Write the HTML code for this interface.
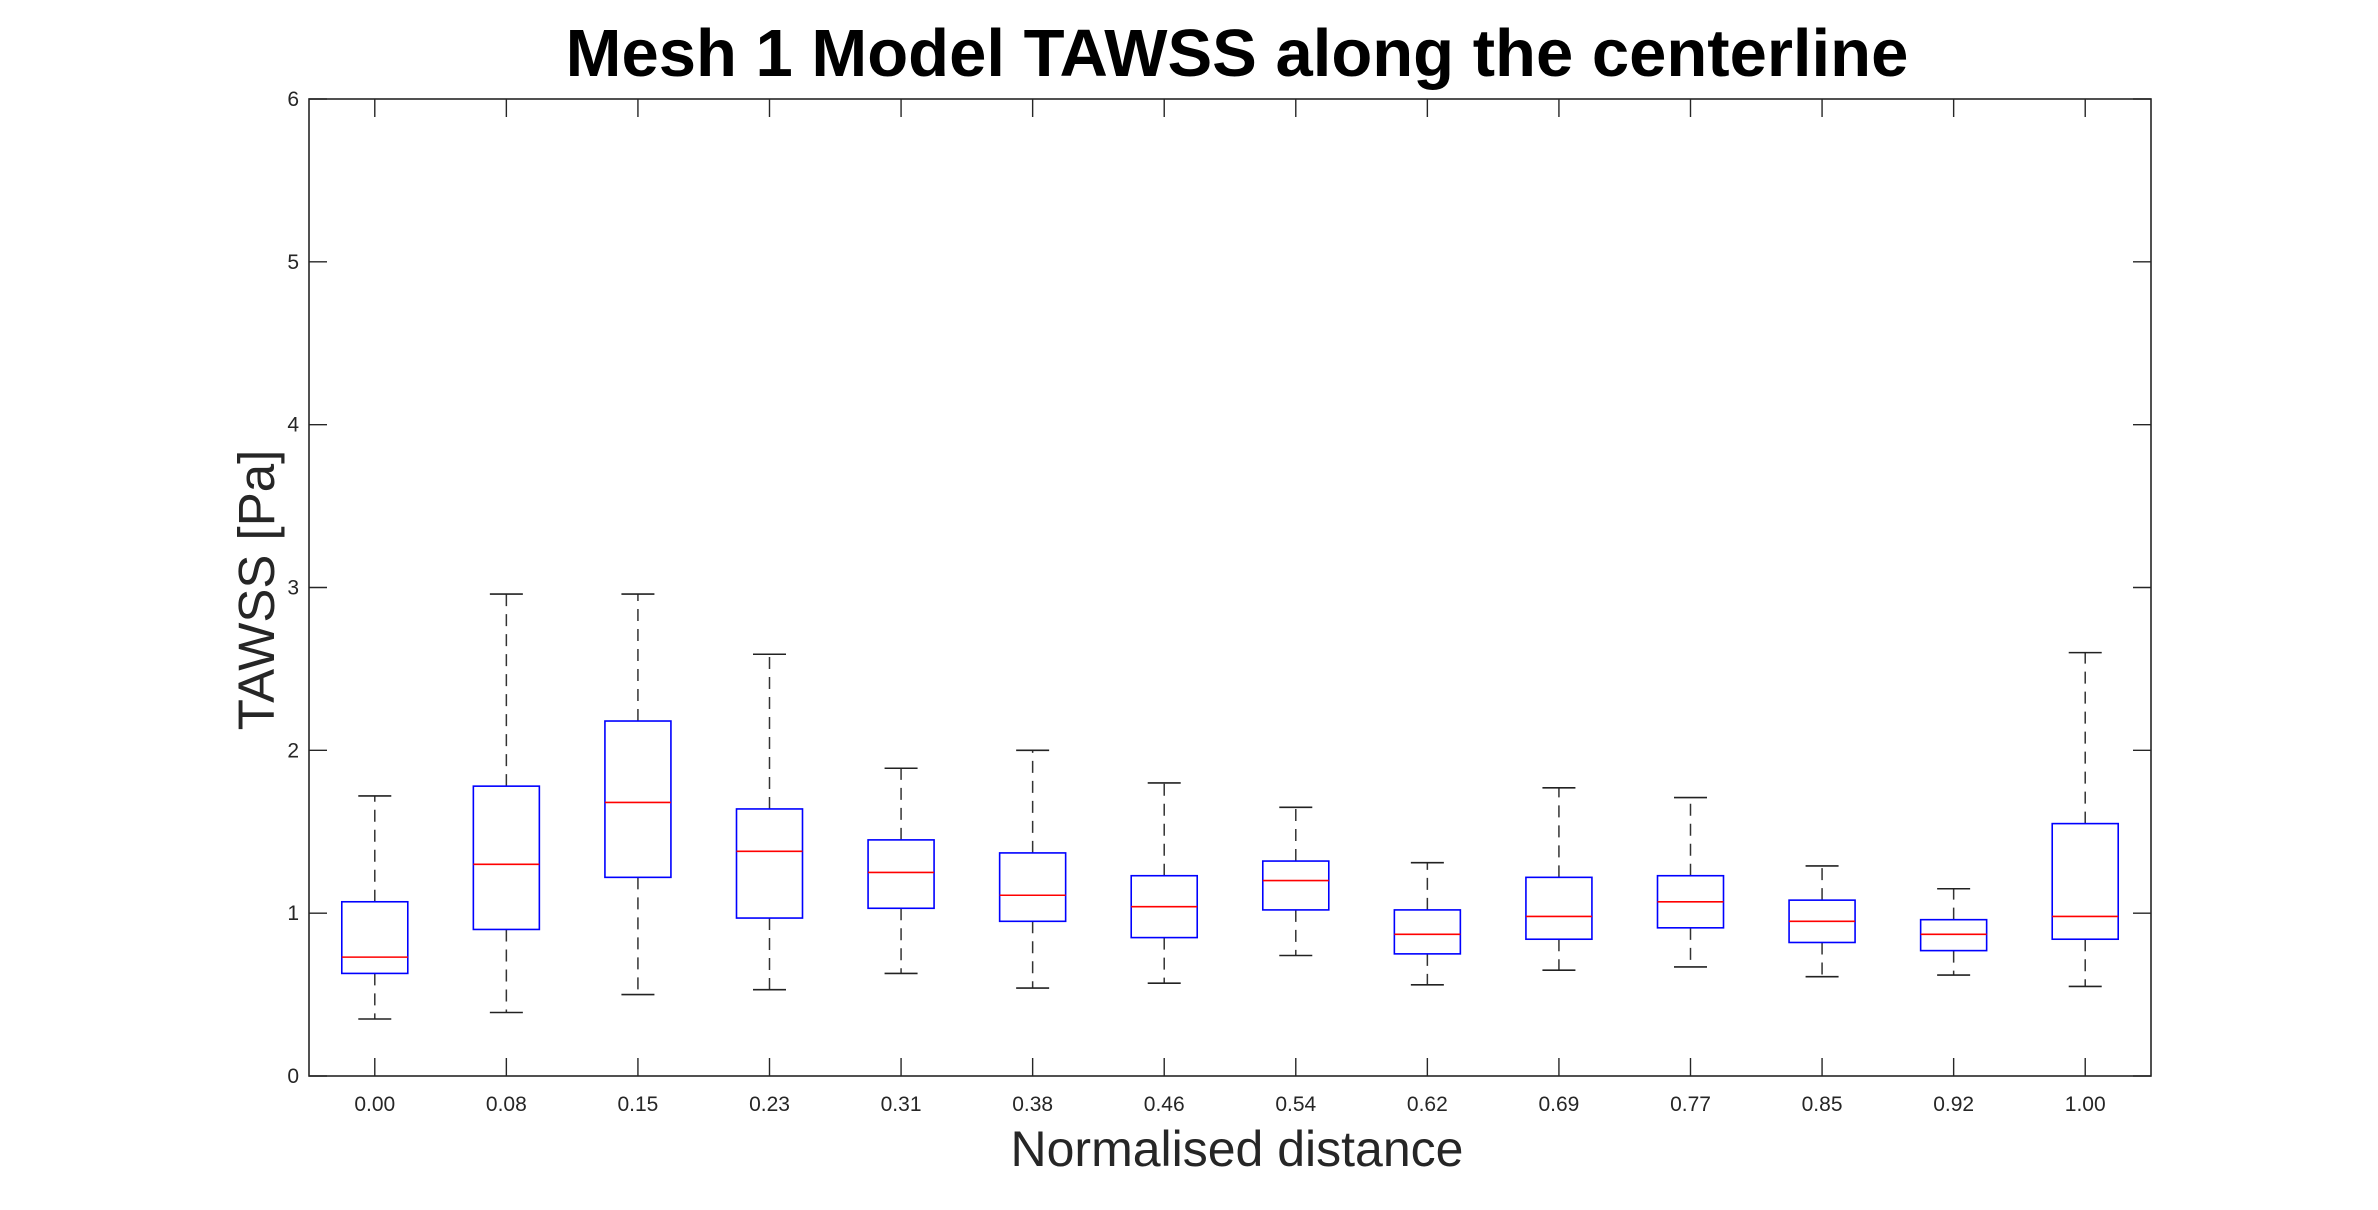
<!DOCTYPE html>
<html><head><meta charset="utf-8"><style>
html,body{margin:0;padding:0;background:#fff;}
svg{display:block;font-family:"Liberation Sans",Arial,sans-serif;}
</style></head><body>
<svg id="chart" width="2378" height="1210" viewBox="0 0 2378 1210" xmlns="http://www.w3.org/2000/svg">
<rect width="2378" height="1210" fill="#fff"/>
<text x="1237" y="76" text-anchor="middle" font-size="67" font-weight="bold" fill="#000">Mesh 1 Model TAWSS along the centerline</text>
<text x="1237" y="1166" text-anchor="middle" font-size="50" fill="#262626">Normalised distance</text>
<text transform="translate(274,590) rotate(-90)" text-anchor="middle" font-size="51" fill="#262626">TAWSS [Pa]</text>
<g id="plot"></g>
</svg>
<script>
const categories=["0.00","0.08","0.15","0.23","0.31","0.38","0.46","0.54","0.62","0.69","0.77","0.85","0.92","1.00"];
const whiskerLow=[0.35,0.39,0.50,0.53,0.63,0.54,0.57,0.74,0.56,0.65,0.67,0.61,0.62,0.55];
const q1=[0.63,0.90,1.22,0.97,1.03,0.95,0.85,1.02,0.75,0.84,0.91,0.82,0.77,0.84];
const medians=[0.73,1.30,1.68,1.38,1.25,1.11,1.04,1.20,0.87,0.98,1.07,0.95,0.87,0.98];
const q3=[1.07,1.78,2.18,1.64,1.45,1.37,1.23,1.32,1.02,1.22,1.23,1.08,0.96,1.55];
const whiskerHigh=[1.72,2.96,2.96,2.59,1.89,2.00,1.80,1.65,1.31,1.77,1.71,1.29,1.15,2.60];
const yTicks=[0,1,2,3,4,5,6];

const L=309,R=2151,T=99,B=1076;
const n=categories.length;
const xs=i=>L+(i+0.5)*(R-L)/n;
const ys=v=>B-(v-0)/(6-0)*(B-T);
const g=document.getElementById('plot');
const NS='http://www.w3.org/2000/svg';
function mk(tag,attrs){const e=document.createElementNS(NS,tag);for(const k in attrs)e.setAttribute(k,attrs[k]);g.appendChild(e);return e;}

let ax=mk('rect',{x:L,y:T,width:R-L,height:B-T,fill:'none',stroke:'#262626','stroke-width':1.6});



yTicks.forEach(v=>{
  const y=ys(v);
  let t=mk('line',{x1:L,y1:y,x2:L+18,y2:y,stroke:'#262626','stroke-width':1.4});
  
  
  let t2=mk('line',{x1:R-18,y1:y,x2:R,y2:y,stroke:'#262626','stroke-width':1.4});
  
  
  let lb=mk('text',{x:L-10,y:y+7,'text-anchor':'end','font-size':21,fill:'#262626'});
  lb.textContent=v;
  
  
});

categories.forEach((c,i)=>{
  const x=xs(i);
  let t=mk('line',{x1:x,y1:B,x2:x,y2:B-18,stroke:'#262626','stroke-width':1.4});
  
  
  let t2=mk('line',{x1:x,y1:T,x2:x,y2:T+18,stroke:'#262626','stroke-width':1.4});
  
  
  let lb=mk('text',{x:x,y:B+35,'text-anchor':'middle','font-size':21,fill:'#262626'});
  lb.textContent=c;
  
  

  const hw=33,cw=16.5;
  let wu=mk('line',{x1:x,y1:ys(q3[i]),x2:x,y2:ys(whiskerHigh[i]),stroke:'#333','stroke-width':1.5,'stroke-dasharray':'12,8'});
  
  
  let wl=mk('line',{x1:x,y1:ys(q1[i]),x2:x,y2:ys(whiskerLow[i]),stroke:'#333','stroke-width':1.5,'stroke-dasharray':'12,8'});
  
  
  let cu=mk('line',{x1:x-cw,y1:ys(whiskerHigh[i]),x2:x+cw,y2:ys(whiskerHigh[i]),stroke:'#222','stroke-width':1.6});
  
  
  let cl=mk('line',{x1:x-cw,y1:ys(whiskerLow[i]),x2:x+cw,y2:ys(whiskerLow[i]),stroke:'#222','stroke-width':1.6});
  
  
  let bx=mk('rect',{x:x-hw,y:ys(q3[i]),width:2*hw,height:ys(q1[i])-ys(q3[i]),fill:'none',stroke:'#0000ff','stroke-width':1.6});
  
  
  let md=mk('line',{x1:x-hw,y1:ys(medians[i]),x2:x+hw,y2:ys(medians[i]),stroke:'#ff0000','stroke-width':1.6});
  
  
});
</script>
</body></html>
